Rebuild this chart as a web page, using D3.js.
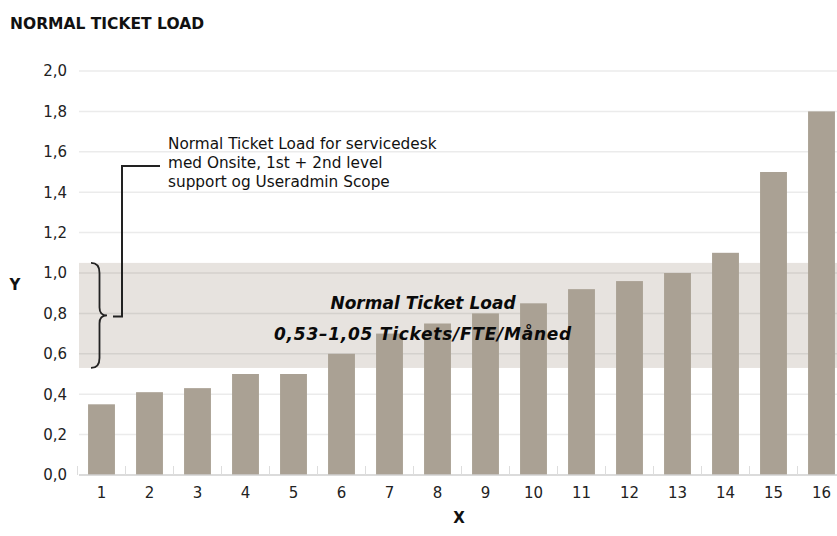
<!DOCTYPE html>
<html>
<head>
<meta charset="utf-8">
<script src="https://cdn.jsdelivr.net/npm/d3@7"></script>
<style>
  html, body { margin: 0; padding: 0; background: #fff; }
  svg { display: block; font-family: "DejaVu Sans", Verdana, sans-serif; }
</style>
</head>
<body>
<svg id="chart" width="837" height="536"></svg>
<script>
// Ticket load per FTE for 16 service desks
const categories = ["1","2","3","4","5","6","7","8","9","10","11","12","13","14","15","16"];
const values = [0.35, 0.41, 0.43, 0.50, 0.50, 0.60, 0.70, 0.75, 0.80, 0.85, 0.92, 0.96, 1.00, 1.10, 1.50, 1.80];
const yTicks = [0, 0.2, 0.4, 0.6, 0.8, 1.0, 1.2, 1.4, 1.6, 1.8, 2.0];
const normalRange = [0.53, 1.05];
const title = "NORMAL TICKET LOAD";
const noteLines = ["Normal Ticket Load for servicedesk", "med Onsite, 1st + 2nd level", "support og Useradmin Scope"];
const bandLines = ["Normal Ticket Load", "0,53\u20131,05 Tickets/FTE/M\u00e5ned"];

const svg = d3.select("#chart");
const left = 79, right = 837;

const y = d3.scaleLinear().domain([0, 2]).range([475, 71]);
const x = d3.scaleBand().domain(categories).range([77.5, 845.5])
  .paddingInner(0.44).paddingOuter(0.22);

const locale = d3.formatLocale({ decimal: ",", thousands: ".", grouping: [3], currency: ["", ""] });
const fmt = locale.format(".1f");

// title
svg.append("text").attr("x", 10).attr("y", 29)
  .attr("font-size", 15.5).attr("font-weight", "bold").attr("fill", "#111")
  .text(title);

// normal range band
svg.append("rect")
  .attr("x", left).attr("width", right - left)
  .attr("y", y(normalRange[1])).attr("height", y(normalRange[0]) - y(normalRange[1]))
  .attr("fill", "#e7e3df");

// gridlines
svg.append("g").selectAll("line").data(yTicks.filter(d => d > 0)).join("line")
  .attr("x1", left).attr("x2", right)
  .attr("y1", d => y(d)).attr("y2", d => y(d))
  .attr("stroke", "#000").attr("stroke-opacity", 0.08).attr("stroke-width", 1.5);

// y axis labels
const yAxis = svg.append("g").attr("transform", "translate(79,0)")
  .call(d3.axisLeft(y).tickValues(yTicks).tickFormat(fmt).tickSize(0).tickPadding(12));
yAxis.select(".domain").remove();
yAxis.selectAll("text").attr("font-size", 15).attr("font-family", "DejaVu Sans, Verdana, sans-serif")
  .attr("fill", "#222");

// bars
svg.append("g").selectAll("rect").data(values).join("rect")
  .attr("x", (d, i) => x(categories[i]))
  .attr("width", x.bandwidth())
  .attr("y", d => y(d))
  .attr("height", d => y(0) - y(d))
  .attr("fill", "#aaa194");

// baseline and category separators
svg.append("line").attr("x1", left).attr("x2", right)
  .attr("y1", y(0)).attr("y2", y(0))
  .attr("stroke", "#cfcfcf").attr("stroke-width", 1.5);
const step = x.step();
svg.append("g").selectAll("line").data(categories).join("line")
  .attr("x1", d => x(d) - (step - x.bandwidth()) / 2)
  .attr("x2", d => x(d) - (step - x.bandwidth()) / 2)
  .attr("y1", y(0)).attr("y2", y(0) - 9)
  .attr("stroke", "#ddd").attr("stroke-width", 1);

// x axis labels
const xAxis = svg.append("g").attr("transform", `translate(0,${y(0)})`)
  .call(d3.axisBottom(x).tickSize(0).tickPadding(12));
xAxis.select(".domain").remove();
xAxis.selectAll("text").attr("font-size", 15).attr("font-family", "DejaVu Sans, Verdana, sans-serif")
  .attr("fill", "#222");

// axis titles
svg.append("text").attr("x", 15).attr("y", 290).attr("text-anchor", "middle")
  .attr("font-size", 15).attr("font-weight", "bold").attr("fill", "#111").text("Y");
svg.append("text").attr("x", 459).attr("y", 523).attr("text-anchor", "middle")
  .attr("font-size", 15).attr("font-weight", "bold").attr("fill", "#111").text("X");

// band caption
const bandMid = 423;
svg.append("g").selectAll("text").data(bandLines).join("text")
  .attr("x", bandMid).attr("y", (d, i) => 309 + i * 31)
  .attr("text-anchor", "middle")
  .attr("font-size", 17).attr("font-weight", "bold").attr("font-style", "italic")
  .attr("letter-spacing", (d, i) => i === 1 ? 0.75 : 0)
  .attr("fill", "#0a0a0a").text(d => d);

// curly brace spanning the normal range
const bt = y(normalRange[1]), bb = y(normalRange[0]), bm = (bt + bb) / 2;
const bx0 = 91, bx1 = 99.5, bx2 = 107;
const brace = d3.path();
brace.moveTo(bx0, bt);
brace.quadraticCurveTo(bx1, bt, bx1, bt + 10);
brace.lineTo(bx1, bm - 8);
brace.quadraticCurveTo(bx1, bm, bx2, bm);
brace.quadraticCurveTo(bx1, bm, bx1, bm + 8);
brace.lineTo(bx1, bb - 10);
brace.quadraticCurveTo(bx1, bb, bx0, bb);
svg.append("path").attr("d", brace.toString())
  .attr("fill", "none").attr("stroke", "#222").attr("stroke-width", 1.8);

// connector from brace to the note
const conn = d3.path();
conn.moveTo(113, bm + 1);
conn.lineTo(122, bm + 1);
conn.lineTo(122, 166);
conn.lineTo(160, 166);
svg.append("path").attr("d", conn.toString())
  .attr("fill", "none").attr("stroke", "#222").attr("stroke-width", 2);

// note text
svg.append("g").selectAll("text").data(noteLines).join("text")
  .attr("x", 168).attr("y", (d, i) => 149 + i * 19)
  .attr("font-size", 15.3).attr("fill", "#111").text(d => d);
</script>
</body>
</html>
